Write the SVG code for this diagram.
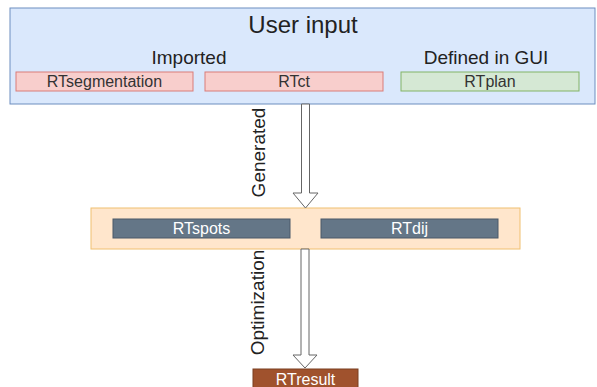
<svg xmlns="http://www.w3.org/2000/svg" width="597" height="387" viewBox="0 0 597 387">
<style>
text{font-family:"Liberation Sans",Arial,sans-serif;text-anchor:middle}
.lbl{font-size:16px;fill:#333333}
.wl{font-size:16px;fill:#ffffff}
.hd{font-size:19px;fill:#222222}
.arrow{fill:#ffffff;stroke:#666666;stroke-width:1}
</style>
<rect width="597" height="387" fill="#ffffff"/>
<g id="user-input">
<rect x="10" y="8" width="585" height="96" fill="#dae8fc" stroke="#6c8ebf"/>
<text x="303" y="33" style="font-size:24px;fill:#222">User input</text>
<text class="hd" x="189" y="64">Imported</text>
<text class="hd" x="486" y="64">Defined in GUI</text>
</g>
<g id="rtsegmentation">
<rect x="16" y="72" width="177" height="19" fill="#f8cecc" stroke="#d97c78"/>
<text class="lbl" x="104.5" y="87.3">RTsegmentation</text>
</g>
<g id="rtct">
<rect x="205" y="72" width="178" height="19" fill="#f8cecc" stroke="#d97c78"/>
<text class="lbl" x="294" y="87.3">RTct</text>
</g>
<g id="rtplan">
<rect x="401" y="72" width="178" height="19" fill="#d5e8d4" stroke="#82b366"/>
<text class="lbl" x="490" y="87.3">RTplan</text>
</g>
<g id="middle">
<rect x="91" y="208" width="429" height="41" fill="#ffe6cc" stroke="#f0c070"/>
</g>
<g id="rtspots">
<rect x="113" y="219" width="177" height="19" fill="#647687" stroke="#4a5868"/>
<text class="wl" x="201.5" y="234.3">RTspots</text>
</g>
<g id="rtdij">
<rect x="321" y="219" width="177" height="19" fill="#647687" stroke="#4a5868"/>
<text class="wl" x="409.5" y="234.3">RTdij</text>
</g>
<g id="rtresult">
<rect x="253" y="369" width="105" height="22" fill="#a0522d" stroke="#7a3e20"/>
<text class="wl" x="305.5" y="385">RTresult</text>
</g>
<g id="connectors">
<path class="arrow" d="M301.5,104 L309.5,104 L309.5,193 L318,193 L305.5,208 L293,193 L301.5,193 Z"/>
<text class="hd" transform="translate(265,152.5) rotate(-90)">Generated</text>
<path class="arrow" d="M301,249 L309,249 L309,355 L317,355 L305,368 L293,355 L301,355 Z"/>
<text class="hd" transform="translate(264,302.5) rotate(-90)">Optimization</text>
</g>
</svg>
